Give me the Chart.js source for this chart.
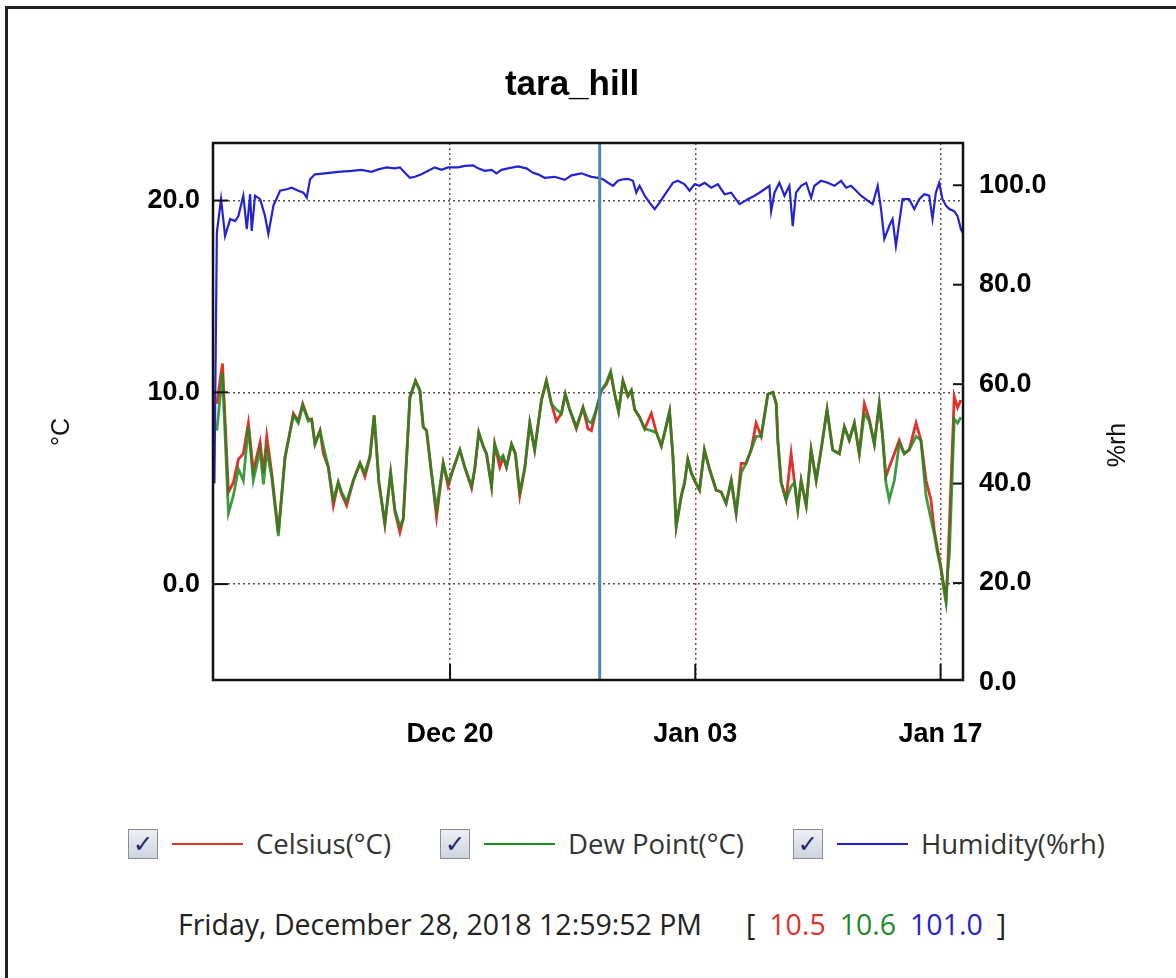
<!DOCTYPE html>
<html>
<head>
<meta charset="utf-8">
<title>tara_hill</title>
<script src="https://cdn.jsdelivr.net/npm/chart.js@4.4.1/dist/chart.umd.min.js"></script>
<style>
    html, body { margin: 0; padding: 0; background: #fff; }
    body { width: 1176px; height: 978px; position: relative; overflow: hidden;
        font-family: "Open Sans", "Noto Sans", sans-serif; }
    #frame { position: absolute; left: 5px; top: 6px; width: 1200px; height: 1000px;
        border-left: 3px solid #222; border-top: 3px solid #222; }
    #chart { position: absolute; left: 0; top: 0; }
    .legend { position: absolute; left: 128px; top: 825px; display: flex; align-items: center;
        font-size: 27.5px; color: #333; white-space: nowrap; }
    .item { display: flex; align-items: center; margin-right: 49px; }
    .box { width: 30px; height: 30px; border: 1px solid #8d8d96; box-sizing: border-box;
        background: linear-gradient(#eef0f6, #cdd3e0); color: #1d2769; font: bold 24px "DejaVu Sans", sans-serif;
        display: flex; align-items: center; justify-content: center; }
    .swatch { width: 71px; height: 2px; margin: 0 13px 0 14px; }
    .footer { position: absolute; left: 178px; top: 905px; font-size: 28.5px; color: #222; white-space: nowrap; }
    .footer span { margin-left: 14px; }
    .footer .open { margin-left: 44px; }
</style>
</head>
<body>
<div id="frame"></div>
<canvas id="chart" width="1176" height="760"></canvas>
<div class="legend">
    <div class="item"><div class="box">✓</div><div class="swatch" style="background:#e2312b"></div>Celsius(°C)</div>
    <div class="item"><div class="box">✓</div><div class="swatch" style="background:#1f8a1f"></div>Dew Point(°C)</div>
    <div class="item"><div class="box">✓</div><div class="swatch" style="background:#2323d6"></div>Humidity(%rh)</div>
</div>
<div class="footer">Friday, December 28, 2018 12:59:52 PM<span class="open">[</span><span style="color:#e2312b">10.5</span><span style="color:#1f8a1f">10.6</span><span style="color:#2323d6">101.0</span><span>]</span></div>
<script>
// days relative to Dec 20 2018 00:00
const xMin = -13.53, xMax = 29.28;
const xTickDays = [0, 14, 28];
const xTickLabels = ['Dec 20', 'Jan 03', 'Jan 17'];
const tempTicks = [0, 10, 20];
const humTicks = [0, 20, 40, 60, 80, 100];
const markerDay = 8.5416; // Dec 28 12:59:52 PM

const tempDays = [
    -13.31, -12.99, -12.65, -12.37, -12.08, -11.80, -11.51, -11.23, -10.84, -10.65, -10.46, -10.18,
    -9.80, -9.42, -8.94, -8.66, -8.41, -8.09, -7.90, -7.71, -7.42, -7.23, -6.95, -6.66, -6.38, -6.19,
    -5.90, -5.52, -5.14, -4.86, -4.57, -4.33, -4.06, -3.72, -3.39, -3.15, -2.86, -2.67, -2.29, -1.97,
    -1.72, -1.53, -1.34, -1.06, -0.77, -0.39, -0.11, 0.18, 0.56, 0.84, 1.23, 1.41, 1.64, 1.89, 2.08,
    2.37, 2.55, 2.84, 3.03, 3.22, 3.51, 3.73, 3.98, 4.26, 4.55, 4.83, 5.22, 5.50, 5.79, 6.07, 6.36,
    6.58, 6.83, 7.21, 7.59, 7.87, 8.07, 8.35, 8.64, 8.92, 9.17, 9.40, 9.62, 9.87, 10.15, 10.35, 10.54,
    10.82, 11.11, 11.49, 11.78, 12.06, 12.25, 12.53, 12.72, 12.91, 13.20, 13.39, 13.57, 13.77, 13.96,
    14.24, 14.52, 14.81, 15.19, 15.48, 15.76, 16.05, 16.33, 16.62, 16.90, 17.19, 17.47, 17.76, 18.14,
    18.43, 18.62, 18.71, 18.90, 19.18, 19.47, 19.66, 19.85, 20.04, 20.33, 20.61, 20.90, 21.18, 21.52,
    21.84, 22.22, 22.51, 22.79, 23.08, 23.36, 23.65, 23.93, 24.22, 24.50, 24.69, 24.88, 25.07, 25.36,
    25.64, 25.93, 26.21, 26.60, 26.88, 27.17, 27.45, 27.64, 27.83, 28.02, 28.21, 28.31, 28.40, 28.50,
    28.78, 28.97, 29.16
];
const celsius = [
    9.4, 11.5, 4.8, 5.3, 6.5, 6.8, 8.4, 5.9, 7.4, 5.8, 7.7, 5.8,
    2.7, 6.6, 8.9, 8.5, 9.4, 8.6, 8.6, 7.3, 8.0, 6.8, 6.1, 4.1, 5.3, 4.7,
    4.1, 5.4, 6.3, 5.6, 6.6, 8.8, 5.3, 3.1, 5.8, 3.8, 2.7, 3.4, 9.7, 10.6,
    10.1, 8.2, 8.0, 5.8, 3.5, 6.3, 5.1, 6.0, 7.0, 6.1, 5.0, 6.0, 7.9, 7.2, 6.8,
    5.1, 7.3, 6.1, 6.6, 6.1, 7.3, 6.8, 4.6, 6.0, 8.4, 7.0, 9.6, 10.6, 9.4, 8.5, 8.9,
    9.9, 9.1, 8.1, 9.2, 8.1, 8.0, 9.1, 10.1, 10.4, 11.0, 9.9, 9.0, 10.6, 9.8, 10.1, 9.1,
    8.7, 8.1, 8.9, 7.9, 7.2, 7.9, 9.0, 6.7, 3.0, 4.6, 5.3, 6.5, 5.8, 5.4,
    4.9, 7.0, 6.0, 4.9, 4.8, 4.2, 5.4, 3.7, 6.3, 6.3, 7.0, 8.4, 7.7, 9.9,
    10.0, 9.4, 7.5, 5.3, 4.4, 6.8, 5.3, 3.9, 5.4, 4.1, 7.0, 5.4, 7.0, 9.1,
    7.0, 6.8, 8.2, 7.5, 8.4, 6.8, 9.4, 8.6, 7.3, 9.4, 7.7, 5.6, 6.1, 6.8,
    7.5, 6.8, 7.0, 8.4, 7.5, 5.4, 4.4, 2.8, 1.8, 0.9, -0.3, -0.8, 0.6, 3.0,
    9.8, 9.2, 9.6
];
const dewPoint = [
    8.0, 11.0, 3.7, 4.6, 6.0, 5.4, 8.2, 5.4, 7.0, 5.2, 7.0, 5.6,
    2.5, 6.6, 8.8, 8.4, 9.3, 8.5, 8.6, 7.3, 8.0, 7.2, 6.1, 4.4, 5.3, 4.8,
    4.3, 5.4, 6.3, 5.8, 6.7, 8.8, 5.3, 3.2, 5.8, 3.9, 3.0, 3.4, 9.8, 10.6,
    10.1, 8.2, 8.0, 5.8, 3.9, 6.3, 5.3, 6.0, 7.0, 6.1, 5.1, 6.0, 7.9, 7.2, 6.8,
    5.1, 7.3, 6.5, 6.7, 6.1, 7.3, 6.8, 4.8, 6.0, 8.4, 7.0, 9.6, 10.6, 9.4, 9.1, 8.9,
    9.9, 9.1, 8.2, 9.2, 8.5, 8.4, 9.1, 10.1, 10.5, 11.1, 9.9, 9.0, 10.6, 9.8, 10.1, 9.1,
    8.7, 8.1, 8.0, 7.9, 7.2, 7.9, 9.0, 6.7, 3.0, 4.6, 5.3, 6.5, 5.8, 5.4,
    4.9, 7.0, 6.0, 4.9, 4.8, 4.2, 5.4, 3.7, 5.8, 6.3, 7.0, 7.7, 7.7, 9.9,
    10.0, 9.4, 7.5, 5.3, 4.4, 5.1, 5.3, 3.9, 5.4, 4.1, 7.0, 5.4, 7.0, 9.1,
    7.0, 6.8, 8.2, 7.5, 8.4, 6.8, 8.9, 8.5, 7.3, 9.4, 7.7, 5.3, 4.4, 5.4,
    7.3, 6.8, 7.0, 7.7, 7.5, 4.6, 3.4, 2.6, 1.6, 0.8, -0.4, -0.95, 0.6, 1.5,
    8.6, 8.4, 8.7
];

const humDays = [
    -13.45, -13.31, -13.07, -12.84, -12.55, -12.27, -12.08, -11.80, -11.60, -11.41, -11.32, -11.13,
    -10.84, -10.56, -10.37, -10.08, -9.70, -9.32, -9.04, -8.66, -8.37, -8.18, -7.99, -7.71, -7.14,
    -6.38, -5.62, -5.05, -4.48, -4.10, -3.62, -3.15, -2.86, -2.58, -2.29, -2.01, -1.63, -1.25, -0.87,
    -0.49, -0.11, 0.46, 0.84, 1.32, 1.60, 1.98, 2.37, 2.65, 2.94, 3.31, 3.88, 4.36, 4.74, 5.02, 5.40,
    5.97, 6.55, 6.93, 7.50, 8.07, 8.45, 8.73, 9.02, 9.30, 9.58, 9.87, 10.15, 10.44, 10.63, 10.82,
    11.11, 11.39, 11.68, 11.96, 12.34, 12.72, 13.00, 13.39, 13.67, 13.96, 14.24, 14.53, 14.91, 15.29,
    15.67, 16.05, 16.52, 17.00, 17.38, 17.66, 17.95, 18.23, 18.33, 18.52, 18.80, 19.09, 19.37, 19.56,
    19.75, 20.04, 20.33, 20.61, 20.80, 21.18, 21.56, 21.94, 22.32, 22.61, 22.89, 23.18, 23.46, 23.84,
    24.12, 24.41, 24.60, 24.79, 25.07, 25.26, 25.45, 25.64, 25.83, 26.21, 26.50, 26.78, 27.07, 27.35,
    27.54, 27.73, 27.92, 28.11, 28.31, 28.50, 28.78, 28.97, 29.16, 29.25
];
const humidity = [
    40.0, 90.5, 97.2, 89.8, 93.2, 92.8, 93.8, 97.9, 91.2, 98.2, 90.8, 97.9,
    97.2, 93.8, 90.2, 95.9, 98.9, 99.2, 99.5, 98.9, 98.5, 97.5, 101.2, 102.2, 102.4,
    102.7, 102.9, 103.1, 102.7, 103.2, 103.6, 103.4, 103.6, 102.5, 101.5, 101.7, 102.2, 102.9, 103.6,
    103.1, 103.6, 103.6, 103.9, 104.0, 103.4, 102.9, 103.1, 102.4, 103.1, 103.4, 103.8, 103.4, 102.5, 102.2, 101.5,
    101.7, 101.1, 102.0, 102.4, 101.7, 101.5, 101.2, 100.5, 99.9, 100.9, 101.2, 101.3, 100.9, 98.5, 99.9,
    97.9, 96.5, 95.2, 96.5, 98.5, 100.5, 100.9, 100.2, 98.9, 100.2, 99.9, 100.5, 99.5, 100.2,
    98.2, 98.5, 96.2, 97.2, 97.9, 98.5, 99.2, 99.9, 94.8, 98.5, 100.5, 97.9, 99.9, 91.8,
    98.5, 99.9, 100.5, 97.5, 99.9, 100.9, 100.5, 99.9, 100.9, 99.5, 99.9, 98.9, 97.9, 96.9,
    96.2, 99.9, 95.2, 89.2, 91.8, 93.2, 87.8, 92.5, 97.2, 97.2, 95.2, 97.2, 98.2, 97.9,
    93.2, 98.5, 100.5, 97.2, 95.9, 95.2, 94.8, 93.8, 91.2, 90.5
];

const tickFont = { family: '"Liberation Sans", Arial, sans-serif', size: 27, weight: 'bold' };

function pairs(xs, ys) {
    return xs.map((x, i) => ({ x: x, y: ys[i] }));
}

function line(ctx, x1, y1, x2, y2) {
    ctx.beginPath();
    ctx.moveTo(x1, y1);
    ctx.lineTo(x2, y2);
    ctx.stroke();
}

// marker line, inward tick marks, plot frame and rotated axis titles
const decorPlugin = {
    id: 'decor',
    afterDatasetsDraw(chart) {
        const { ctx, chartArea: a, scales } = chart;
        ctx.save();
        ctx.strokeStyle = '#4f86b8';
        ctx.lineWidth = 3;
        const mx = scales.x.getPixelForValue(markerDay);
        line(ctx, mx, a.top, mx, a.bottom);

        ctx.strokeStyle = '#111';
        ctx.lineWidth = 2;
        tempTicks.forEach(v => {
            const y = scales.y.getPixelForValue(v);
            line(ctx, a.left, y, a.left + 15, y);
        });
        humTicks.forEach(v => {
            const y = scales.y1.getPixelForValue(v);
            if (y < a.bottom) line(ctx, a.right - 10, y, a.right, y);
        });
        xTickDays.forEach(v => {
            const x = scales.x.getPixelForValue(v);
            line(ctx, x, a.bottom - 16, x, a.bottom);
        });

        ctx.lineWidth = 2.5;
        ctx.strokeRect(a.left, a.top, a.right - a.left, a.bottom - a.top);

        ctx.fillStyle = '#111';
        ctx.font = '25px "Liberation Sans", Arial, sans-serif';
        ctx.textAlign = 'center';
        ctx.textBaseline = 'middle';
        [['°C', 62, 432], ['%rh', 1118, 445]].forEach(t => {
            ctx.save();
            ctx.translate(t[1], t[2]);
            ctx.rotate(-Math.PI / 2);
            ctx.fillText(t[0], 0, 0);
            ctx.restore();
        });
        ctx.restore();
    }
};

new Chart(document.getElementById('chart'), {
    type: 'line',
    data: {
        datasets: [
            { label: 'Celsius(°C)', data: pairs(tempDays, celsius), borderColor: '#e2312b',
              borderWidth: 2.8, yAxisID: 'y', order: 2 },
            { label: 'Dew Point(°C)', data: pairs(tempDays, dewPoint), borderColor: 'rgba(31,138,31,0.85)',
              borderWidth: 2.8, yAxisID: 'y', order: 1 },
            { label: 'Humidity(%rh)', data: pairs(humDays, humidity), borderColor: '#2323d6',
              borderWidth: 2.2, yAxisID: 'y1', order: 3 }
        ]
    },
    options: {
        responsive: false, animation: false, devicePixelRatio: 1,
        elements: { point: { radius: 0 }, line: { tension: 0 } },
        layout: { padding: { left: 0, right: 32, top: 0, bottom: 0 } },
        plugins: {
            legend: { display: false },
            tooltip: { enabled: false },
            title: {
                display: true, text: 'tara_hill', color: '#000',
                font: { family: '"Liberation Sans", Arial, sans-serif', size: 35, weight: 'bold' },
                padding: { top: 64, bottom: 37 }
            }
        },
        scales: {
            x: {
                type: 'linear', min: xMin, max: xMax,
                afterBuildTicks: s => { s.ticks = xTickDays.map(v => ({ value: v })); },
                afterFit: s => { s.height = 80; },
                grid: { color: '#8a4545', lineWidth: 1.5, drawTicks: false },
                border: { display: false, dash: [2, 3] },
                ticks: { padding: 38, color: '#000', font: tickFont, maxRotation: 0, autoSkip: false,
                    callback: (v, i) => xTickLabels[i] }
            },
            y: {
                position: 'left', min: -5, max: 23,
                afterBuildTicks: s => { s.ticks = tempTicks.map(v => ({ value: v })); },
                afterFit: s => { s.width = 213; },
                grid: { color: '#555', lineWidth: 1.5, drawTicks: false },
                border: { display: false, dash: [2, 3] },
                ticks: { padding: 13, color: '#000', font: tickFont, callback: v => v.toFixed(1) }
            },
            y1: {
                position: 'right', min: 0.5, max: 108.5,
                afterBuildTicks: s => { s.ticks = humTicks.map(v => ({ value: v })); },
                afterFit: s => { s.width = 181; },
                grid: { drawOnChartArea: false, drawTicks: false },
                border: { display: false },
                ticks: { padding: 16, color: '#000', font: tickFont, callback: v => v.toFixed(1) }
            }
        }
    },
    plugins: [decorPlugin]
});
</script>
</body>
</html>
